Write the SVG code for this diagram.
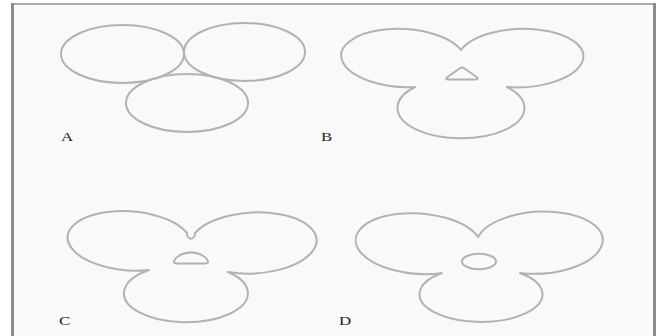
<svg xmlns="http://www.w3.org/2000/svg" width="662" height="336" viewBox="0 0 662 336">
  <style>
    .outline { fill: none; stroke: #b2b2b2; stroke-width: 2; stroke-linejoin: round; }
    .frame { fill: none; stroke: #8c8c8c; }
    .lbl { font-family: "Liberation Serif", "Times New Roman", serif; font-size: 13.5px; fill: #1e1e1e; }
  </style>

  <!-- page and frame -->
  <rect x="0" y="0" width="662" height="336" fill="#ffffff"/>
  <rect x="12" y="4" width="642" height="340" fill="#f9f9f9"/>
  <line class="frame" x1="12" y1="4" x2="654" y2="4" stroke-width="1.5"/>
  <line class="frame" x1="12.5" y1="3" x2="12.5" y2="336" stroke-width="3"/>
  <line class="frame" x1="654.5" y1="3" x2="654.5" y2="336" stroke-width="3"/>

  <!-- A: three separate ellipses -->
  <g id="panel-a">
    <ellipse class="outline" cx="122.5" cy="54" rx="61.5" ry="29"/>
    <ellipse class="outline" cx="244.5" cy="52" rx="60.5" ry="29"/>
    <ellipse class="outline" cx="187" cy="103" rx="61" ry="29"/>
    <text class="lbl" transform="translate(61 141) scale(1.25 1)">A</text>
  </g>

  <!-- B: merged lobes with a triangular gap -->
  <g id="panel-b">
    <path class="outline" d="M 461,50 A 63 29.2 -2 1 1 507,87 A 63.5 30.4 0 1 1 415,87 A 62 29 3 1 1 461,50 Z"/>
    <path class="outline" d="M 459.5,68.5 L 447.5,77 Q 444.5,79.5 448.5,79.5 L 475.5,79.5 Q 479.5,79.5 476.5,77 L 464.5,68.5 Q 462,66.5 459.5,68.5 Z"/>
    <text class="lbl" transform="translate(321 141) scale(1.25 1)">B</text>
  </g>

  <!-- C: merged lobes with a dome-shaped gap -->
  <g id="panel-c">
    <path class="outline" d="M 195,233 A 63.5 30.5 -3 1 1 228,272 A 62 29 0 1 1 149,270 A 62 29.5 4 1 1 187,233 C 187,240.5 195,240.5 195,233 Z"/>
    <path class="outline" d="M 177,263.5 C 172,263.5 174,259 178,256.5 C 182,253.5 186,252.5 191,252.5 C 196,252.5 200,253.5 204,256.5 C 208,259 210,263.5 205,263.5 Z"/>
    <text class="lbl" transform="translate(59 325) scale(1.25 1)">C</text>
  </g>

  <!-- D: merged lobes with an elliptical gap -->
  <g id="panel-d">
    <path class="outline" d="M 478,237 A 63.5 31 -3 1 1 520,273 A 61.5 27.6 0 1 1 442,273 A 63 30.2 4 1 1 478,237 Z"/>
    <ellipse class="outline" cx="479" cy="261.5" rx="17" ry="7.8"/>
    <text class="lbl" transform="translate(339 325) scale(1.25 1)">D</text>
  </g>
</svg>
